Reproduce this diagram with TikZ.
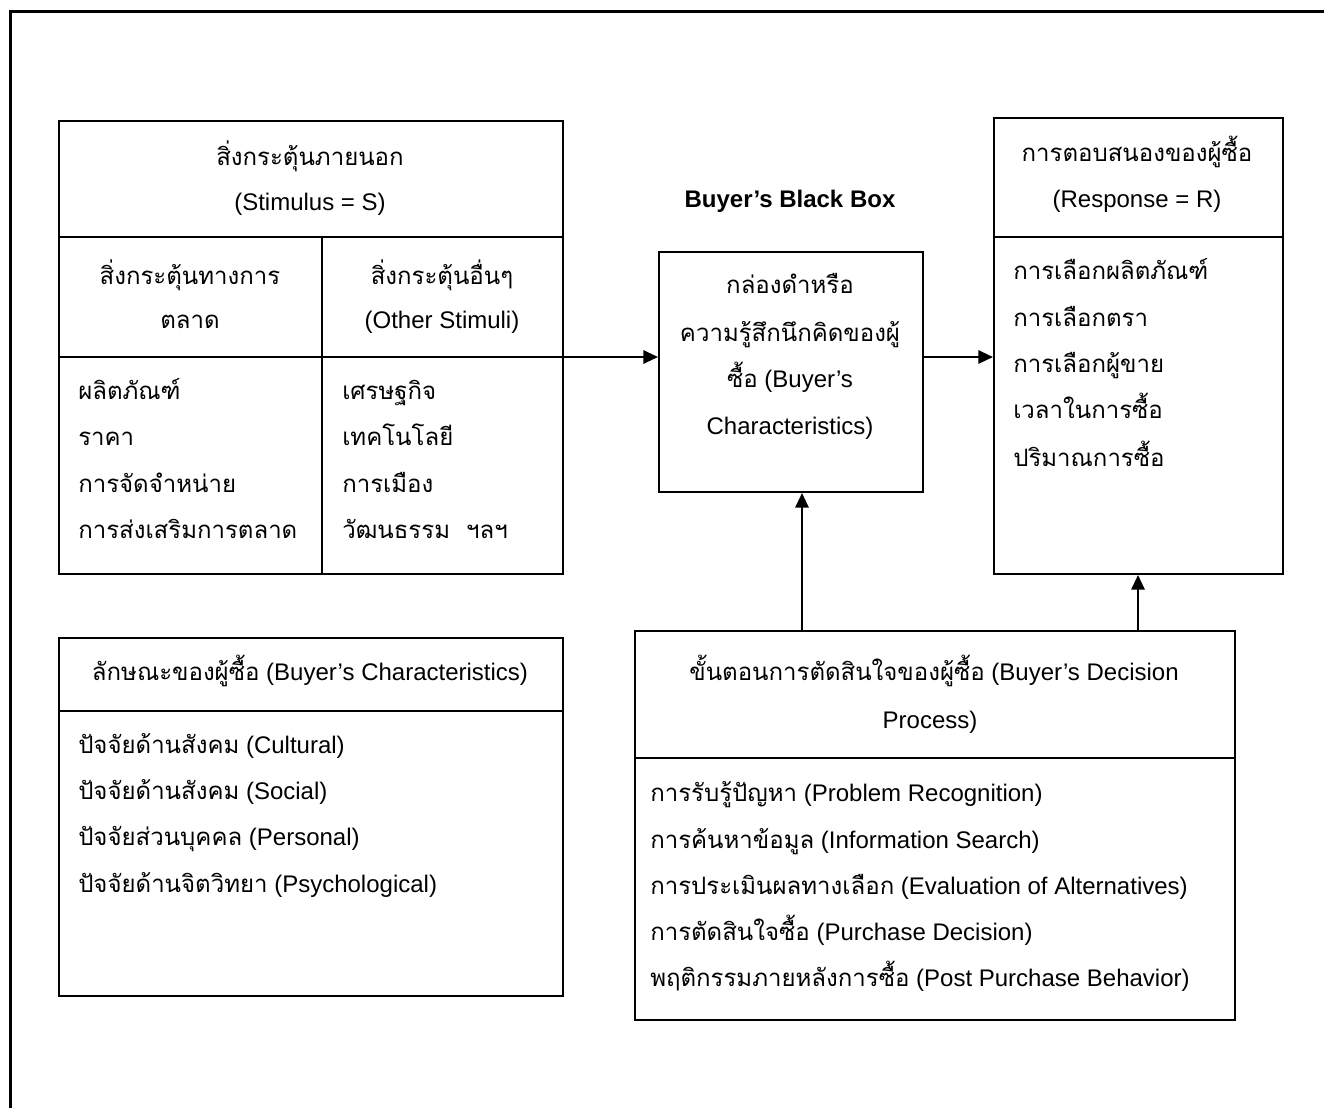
\documentclass[tikz,border=0pt]{standalone}
\usepackage{fontspec}
\setmainfont{Liberation Sans}
\newfontfamily\thai[Script=Thai]{Loma}
\usetikzlibrary{arrows.meta}
\begin{document}
\begin{tikzpicture}[x=0.75pt,y=-0.75pt,
  box/.style={draw, line width=1.5pt, inner sep=0pt, anchor=north west},
  divline/.style={line width=1.5pt},
  frameline/.style={line width=2.25pt},
  arr/.style={line width=1.5pt, -{Triangle[length=11pt,width=10pt]}},
  txt/.style={font=\fontsize{18}{22}\selectfont, inner sep=0pt, anchor=base},
  ltxt/.style={txt, anchor=base west},
  btxt/.style={txt, font=\fontsize{18}{22}\selectfont\bfseries}]
\useasboundingbox (0,0) rectangle (1324,1108);
% outer frame (open at right and bottom)
\draw[frameline] (10,1108) -- (10,11) -- (1324,11);

% boxes
\node[box, minimum width=378pt, minimum height=339.75pt] (stim) at (58,120) {};
\node[box, minimum width=198pt, minimum height=180pt] (bb) at (658,251) {};
\node[box, minimum width=216.75pt, minimum height=342pt] (resp) at (993,117) {};
\node[box, minimum width=378pt, minimum height=268.5pt] (char) at (58,637) {};
\node[box, minimum width=450pt, minimum height=291.75pt] (dec) at (634,630) {};

% dividers
\coordinate (y237) at (0,237);
\coordinate (y357) at (0,357);
\coordinate (y711) at (0,711);
\coordinate (y758) at (0,758);
\coordinate (xcol) at (322,237);
\draw[divline] (stim.west |- y237) -- (stim.east |- y237);
\draw[divline] (stim.west |- y357) -- (stim.east |- y357);
\draw[divline] (xcol) -- (xcol |- stim.south);
\draw[divline] (resp.west |- y237) -- (resp.east |- y237);
\draw[divline] (char.west |- y711) -- (char.east |- y711);
\draw[divline] (dec.west |- y758) -- (dec.east |- y758);

% stimulus texts
\node[txt] (s1) at (310,165) {\thai สิ่งกระตุ้นภายนอก};
\node[txt] (s2) at (310,210) {(Stimulus = S)};
\node[txt] (s3) at (190,284) {\thai สิ่งกระตุ้นทางการ};
\node[txt] (s4) at (190,328) {\thai ตลาด};
\node[txt] (s5) at (442,284) {\thai สิ่งกระตุ้นอื่นๆ};
\node[txt] (s6) at (442,328) {(Other Stimuli)};
\node[ltxt] (m1) at (78,399) {\thai ผลิตภัณฑ์};
\node[ltxt] (m2) at (78,445) {\thai ราคา};
\node[ltxt] (m3) at (78,492) {\thai การจัดจำหน่าย};
\node[ltxt] (m4) at (78,538) {\thai การส่งเสริมการตลาด};
\node[ltxt] (o1) at (342,399) {\thai เศรษฐกิจ};
\node[ltxt] (o2) at (342,445) {\thai เทคโนโลยี};
\node[ltxt] (o3) at (342,492) {\thai การเมือง};
\node[ltxt] (o4) at (342,538) {\thai วัฒนธรรม\ \ ฯลฯ};

% black box
\node[btxt] (bbt) at (790,207) {Buyer’s Black Box};
\node[txt] (b1) at (790,293) {\thai กล่องดำหรือ};
\node[txt] (b2) at (790,341) {\thai ความรู้สึกนึกคิดของผู้};
\node[txt] (b3) at (790,387) {{\thai ซื้อ} (Buyer’s};
\node[txt] (b4) at (790,434) {Characteristics)};

% response
\node[txt] (r1) at (1137,161) {\thai การตอบสนองของผู้ซื้อ};
\node[txt] (r2) at (1137,207) {(Response = R)};
\node[ltxt] (r3) at (1013,279) {\thai การเลือกผลิตภัณฑ์};
\node[ltxt] (r4) at (1013,326) {\thai การเลือกตรา};
\node[ltxt] (r5) at (1013,372) {\thai การเลือกผู้ขาย};
\node[ltxt] (r6) at (1013,418) {\thai เวลาในการซื้อ};
\node[ltxt] (r7) at (1013,466) {\thai ปริมาณการซื้อ};

% buyer characteristics
\node[txt] (c0) at (310,680) {{\thai ลักษณะของผู้ซื้อ} (Buyer’s Characteristics)};
\node[ltxt] (c1) at (78,753) {{\thai ปัจจัยด้านสังคม} (Cultural)};
\node[ltxt] (c2) at (78,799) {{\thai ปัจจัยด้านสังคม} (Social)};
\node[ltxt] (c3) at (78,845) {{\thai ปัจจัยส่วนบุคคล} (Personal)};
\node[ltxt] (c4) at (78,892) {{\thai ปัจจัยด้านจิตวิทยา} (Psychological)};

% decision process
\node[txt] (d0) at (934,680) {{\thai ขั้นตอนการตัดสินใจของผู้ซื้อ} (Buyer’s Decision};
\node[txt] (d0b) at (930,728) {Process)};
\node[ltxt] (d1) at (650,801) {{\thai การรับรู้ปัญหา} (Problem Recognition)};
\node[ltxt] (d2) at (650,848) {{\thai การค้นหาข้อมูล} (Information Search)};
\node[ltxt] (d3) at (650,894) {{\thai การประเมินผลทางเลือก} (Evaluation of Alternatives)};
\node[ltxt] (d4) at (650,940) {{\thai การตัดสินใจซื้อ} (Purchase Decision)};
\node[ltxt] (d5) at (650,986) {{\thai พฤติกรรมภายหลังการซื้อ} (Post Purchase Behavior)};

% connectors
\coordinate (h1) at (0,357);
\draw[arr] (stim.east |- h1) -- (bb.west |- h1);
\draw[arr] (bb.east |- h1) -- (resp.west |- h1);
\coordinate (v1) at (802,630);
\draw[arr] (v1) -- (v1 |- bb.south);
\coordinate (v2) at (1138,630);
\draw[arr] (v2) -- (v2 |- resp.south);
\end{tikzpicture}
\end{document}
